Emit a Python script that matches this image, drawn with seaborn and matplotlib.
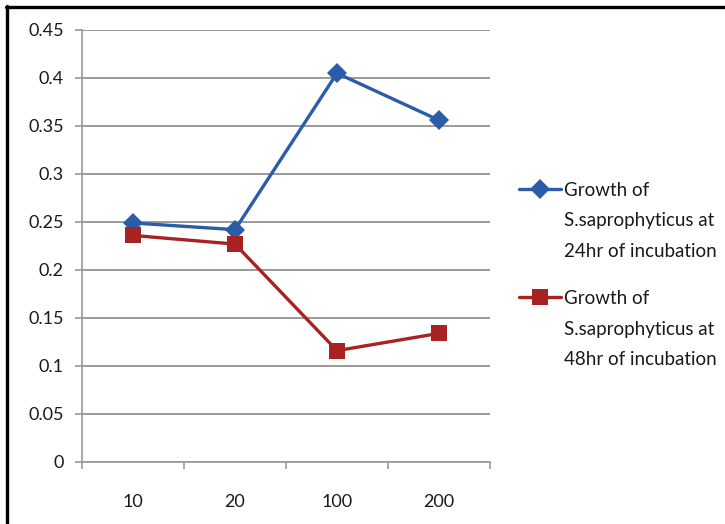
import matplotlib
matplotlib.use("Agg")
import matplotlib.pyplot as plt
from matplotlib.lines import Line2D
import seaborn as sns
import pandas as pd

# Concentrations on the x axis and absorbance readings for each incubation time
concentrations = ["10", "20", "100", "200"]
growth_24hr = [0.249, 0.242, 0.405, 0.356]
growth_48hr = [0.236, 0.227, 0.116, 0.134]
series_names = [
    "Growth of\nS.saprophyticus at\n24hr of incubation",
    "Growth of\nS.saprophyticus at\n48hr of incubation",
]
y_ticks = [0, 0.05, 0.1, 0.15, 0.2, 0.25, 0.3, 0.35, 0.4, 0.45]
y_tick_labels = ["0", "0.05", "0.1", "0.15", "0.2", "0.25", "0.3", "0.35", "0.4", "0.45"]

df = pd.DataFrame({
    "conc": concentrations * 2,
    "growth": growth_24hr + growth_48hr,
    "series": [series_names[0]] * 4 + [series_names[1]] * 4,
})

sns.set_theme(style="white")
plt.rcParams["font.family"] = ["Lato", "DejaVu Sans"]

blue = "#2A5CA8"
red = "#A82222"
text_color = "#1a1a1a"
grid_color = "#9A9A9A"
marker_sizes = [10, 11.5]

fig = plt.figure(figsize=(7.25, 5.24), dpi=100)
ax = fig.add_axes([82 / 725, 1 - 462 / 524, (490 - 82) / 725, (462 - 30) / 524])

sns.pointplot(
    data=df, x="conc", y="growth", hue="series", order=concentrations,
    palette=[blue, red], markers=["D", "s"], linestyles=["-", "-"],
    dodge=False, errorbar=None, ax=ax, legend=False,
)
for line, ms in zip(ax.lines, marker_sizes):
    line.set_linewidth(2.4)
    line.set_markersize(ms)
    line.set_markeredgewidth(0)

ax.set_xlim(-0.5, 3.5)
ax.set_ylim(0, 0.45)
ax.set_yticks(y_ticks)
ax.set_yticklabels(y_tick_labels)
ax.set_xlabel("")
ax.set_ylabel("")

ax.grid(axis="y", color=grid_color, linewidth=1.4)
ax.set_axisbelow(True)
for side in ["top", "right"]:
    ax.spines[side].set_visible(False)
for side in ["left", "bottom"]:
    ax.spines[side].set_color(grid_color)
    ax.spines[side].set_linewidth(1.2)

ax.tick_params(axis="y", which="major", left=True, length=5, width=1.2,
               color=grid_color, labelsize=13, labelcolor=text_color, pad=8)
ax.set_xticks([-0.5, 0.5, 1.5, 2.5, 3.5], minor=True)
ax.tick_params(axis="x", which="minor", bottom=True, length=5, width=1.2,
               color=grid_color)
ax.tick_params(axis="x", which="major", bottom=False, length=0,
               labelsize=13, labelcolor=text_color, pad=23)

handles = [
    Line2D([], [], color=blue, lw=2.4, marker="D", ms=marker_sizes[0], mew=0),
    Line2D([], [], color=red, lw=2.4, marker="s", ms=marker_sizes[1], mew=0),
]
leg = ax.legend(
    handles, series_names, loc="upper left", bbox_to_anchor=(1.053, 0.665),
    frameon=False, fontsize=13.5, handlelength=2.25, handletextpad=0.15,
    labelspacing=1.65, labelcolor=text_color, borderaxespad=0,
)
for t in leg.get_texts():
    t.set_linespacing(1.94)
# keep each legend marker level with the first line of its label
for column in leg._legend_handle_box.get_children():
    for row in column.get_children():
        row.align = "top"

# Black frame along the top and left edges of the figure
fig.add_artist(Line2D([6 / 725, 1.0], [1 - 7 / 524, 1 - 7 / 524],
                      transform=fig.transFigure, color="black", lw=2.4))
fig.add_artist(Line2D([7 / 725, 7 / 725], [0, 1 - 6 / 524],
                      transform=fig.transFigure, color="black", lw=2.4))

fig.savefig("out.png", dpi=100, facecolor="white")
